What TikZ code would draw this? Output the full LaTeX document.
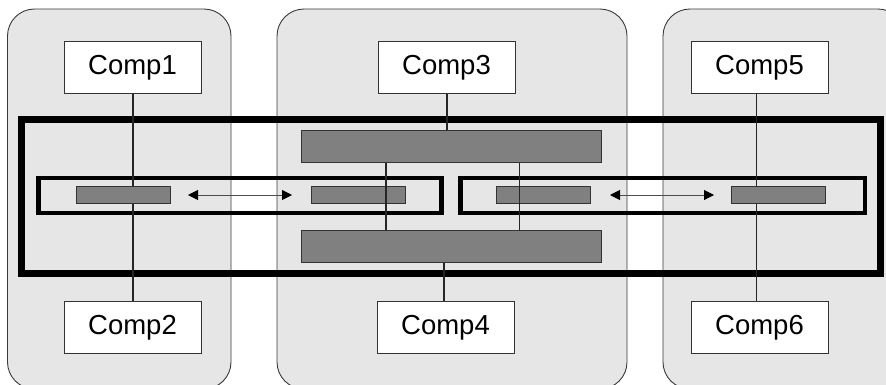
\documentclass[tikz,border=0pt]{standalone}
\usepackage{fontspec}
\setmainfont{Liberation Sans}
\usetikzlibrary{arrows.meta}
\definecolor{panelfill}{HTML}{E6E6E6}
\definecolor{panelline}{HTML}{3A3A3A}
\definecolor{barfill}{HTML}{808080}
\definecolor{barline}{HTML}{333333}
\begin{document}
\begin{tikzpicture}[x=1pt,y=-1pt,
  panel/.style={fill=panelfill,draw=panelline,line width=0.9pt,rounded corners=27pt},
  compbox/.style={draw=barline,fill=white,line width=1pt,minimum width=137pt,minimum height=52pt,
    inner sep=0pt,font=\fontsize{27.5}{32}\selectfont},
  bigbar/.style={draw=barline,fill=barfill,line width=1pt,minimum width=300pt,minimum height=32pt,inner sep=0pt},
  smallbar/.style={draw=barline,fill=barfill,line width=1pt,minimum width=94pt,minimum height=17.5pt,inner sep=0pt},
  link/.style={draw=black!85,line width=1.1pt},
  outerframe/.style={draw=black,line width=7pt},
  innerframe/.style={draw=black,line width=4.5pt},
  biarrow/.style={draw=black!70,line width=1pt,{Triangle[length=10pt,width=10pt,color=black]}-{Triangle[length=10pt,width=10pt,color=black]}}
]
\useasboundingbox (0,0) rectangle (886,384);
\begin{scope}
  \clip (0,0) rectangle (886,384);
  % column panels
  \draw[panel] (7.5,9) rectangle (231,389);
  \draw[panel] (277,9) rectangle (627,389);
  \draw[panel] (663,9) rectangle (905,389);
\end{scope}

% components
\node[compbox] (c1) at (132.5,67.5) {Comp1};
\node[compbox] (c3) at (446.5,67.5) {Comp3};
\node[compbox] (c5) at (759.5,67.5) {Comp5};
\node[compbox] (c2) at (132.5,327.5) {Comp2};
\node[compbox] (c4) at (445.5,327.5) {Comp4};
\node[compbox] (c6) at (759.5,327.5) {Comp6};

% frames
\draw[outerframe] (21,119.5) rectangle (880,273);
\draw[innerframe] (38.7,178) rectangle (441.7,213);
\draw[innerframe] (460.7,178) rectangle (865,213);

% bars
\node[bigbar] (top) at (451,146.5) {};
\node[bigbar] (bot) at (451,246.5) {};
\node[smallbar] (l1) at (123,195) {};
\node[smallbar] (l2) at (358,195) {};
\node[smallbar] (r1) at (543.3,195) {};
\node[smallbar] (r2) at (778,195) {};

% links from components to bars
\draw[link] (c1.south -| 133,0) -- (l1.north -| 133,0);
\draw[link] (l1.south -| 133,0) -- (c2.north -| 133,0);
\draw[link] (c5.south -| 756.5,0) -- (r2.north -| 756.5,0);
\draw[link] (r2.south -| 756.5,0) -- (c6.north -| 756.5,0);
\draw[link] (c3.south -| 447,0) -- (top.north -| 447,0);
\draw[link] (bot.south -| 444,0) -- (c4.north -| 444,0);
\draw[link] (top.south -| 386,0) -- (bot.north -| 386,0);
\draw[link] (top.south -| 519.7,0) -- (bot.north -| 519.7,0);

% bidirectional arrows
\coordinate (a1s) at (188,195);
\coordinate (a1e) at (292,195);
\coordinate (a2s) at (610,195);
\coordinate (a2e) at (714,195);
\draw[biarrow] (a1s) -- (a1e);
\draw[biarrow] (a2s) -- (a2e);
\end{tikzpicture}
\end{document}
